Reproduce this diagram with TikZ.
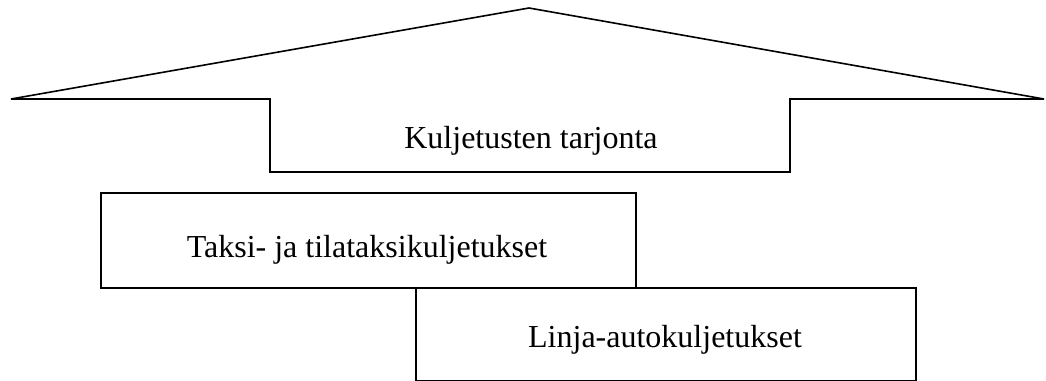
\documentclass[tikz,border=0pt]{standalone}
\usepackage{fontspec}
\setmainfont{Liberation Serif}
\begin{document}
\begin{tikzpicture}[x=1pt,y=-1pt,
  outline/.style={draw=black,line width=1.6pt,line join=miter},
  label/.style={font=\fontsize{32}{38}\selectfont,inner sep=0pt,anchor=base},
  panel/.style={outline,fill=white,inner sep=0pt,anchor=north west}]
\useasboundingbox[fill=white] (0,0) rectangle (1046,380);
% Broad upward arrow with a notched base
\draw[outline] (11,99) -- (529,8) -- (1044,99) -- (790,99) -- (790,172)
  -- (270,172) -- (270,99) -- cycle;
\node[label] (supply) at (531,148) {Kuljetusten tarjonta};
% Stacked service boxes
\node[panel,minimum width=535pt,minimum height=95pt] (taxi) at (100,192) {};
\node[label] (taxilabel) at (367,257) {Taksi- ja tilataksikuljetukset};
\node[panel,minimum width=500pt,minimum height=93pt] (bus) at (415,287) {};
\node[label] (buslabel) at (665,347) {Linja-autokuljetukset};
\end{tikzpicture}
\end{document}
